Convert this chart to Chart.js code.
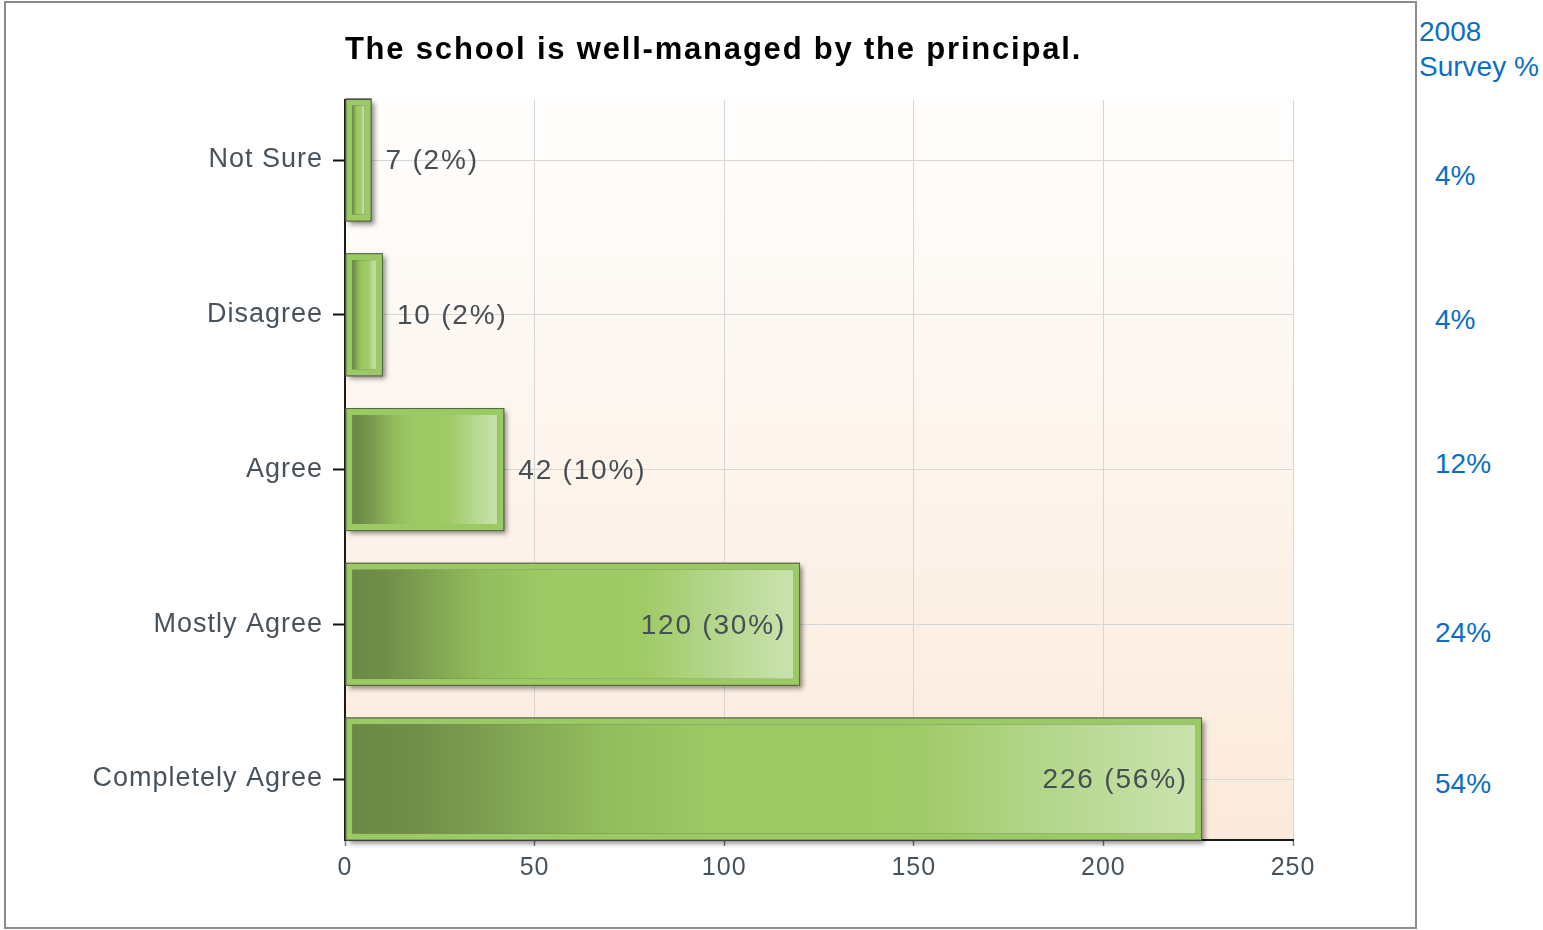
<!DOCTYPE html>
<html><head><meta charset="utf-8">
<script src="https://cdn.jsdelivr.net/npm/chart.js@4.4.0/dist/chart.umd.min.js"></script>
<style>
html,body{margin:0;padding:0;background:#fff;width:1543px;height:930px;overflow:hidden;font-family:"Liberation Sans",Arial,sans-serif;}
#box{position:absolute;left:4px;top:1px;width:1409px;height:924px;border:2px solid #8c8c8c;}
#c{position:absolute;left:0;top:0;}
.side{position:absolute;color:#0a6fc4;font-size:28px;line-height:32px;white-space:nowrap;}
</style></head>
<body>
<div id="box"><canvas id="c" width="1409" height="924"></canvas></div>
<div id="sideWrap"></div>
<script>
const title = 'The school is well-managed by the principal.';
const categories = ['Not Sure', 'Disagree', 'Agree', 'Mostly Agree', 'Completely Agree'];
const counts = [7, 10, 42, 120, 226];
const percents = [2, 2, 10, 30, 56];
const xTicks = [0, 50, 100, 150, 200, 250];
const survey2008Header = ['2008', 'Survey %'];
const survey2008 = ['4%', '4%', '12%', '24%', '54%'];

// side column (HTML text)
const sideWrap = document.getElementById('sideWrap');
const headTops = [16, 51];
survey2008Header.forEach((t, i) => {
  const d = document.createElement('div'); d.className = 'side';
  d.style.left = '1419px'; d.style.top = headTops[i] + 'px'; d.textContent = t; sideWrap.appendChild(d);
});
const valTops = [160, 304, 448, 617, 768];
survey2008.forEach((t, i) => {
  const d = document.createElement('div'); d.className = 'side';
  d.style.left = '1435px'; d.style.top = valTops[i] + 'px'; d.textContent = t; sideWrap.appendChild(d);
});

const FONT = '"Liberation Sans", Arial, sans-serif';

const bgPlugin = {
  id: 'bg',
  beforeDraw(chart) {
    const {ctx, chartArea: a} = chart;
    ctx.save();
    const g = ctx.createLinearGradient(0, a.top, 0, a.bottom);
    g.addColorStop(0, '#fffefd');
    g.addColorStop(1, '#fbeadb');
    ctx.fillStyle = g;
    ctx.fillRect(a.left, a.top, a.right - a.left, a.bottom - a.top);
    // title
    ctx.fillStyle = '#000';
    ctx.font = 'bold 31px ' + FONT;
    ctx.letterSpacing = '1.8px';
    ctx.textAlign = 'center';
    ctx.textBaseline = 'middle';
    ctx.fillText(title, chart.width / 2 + 3, 47);
    ctx.restore();
    ctx.letterSpacing = '1px';
  }
};

const barFx = {
  id: 'barFx',
  beforeDatasetsDraw(chart) {
    const ctx = chart.ctx;
    const meta = chart.getDatasetMeta(0);
    ctx.save();
    meta.data.forEach(b => {
      const p = b.getProps(['x', 'y', 'base', 'height'], true);
      ctx.save();
      ctx.shadowColor = 'rgba(0,0,0,0.45)';
      ctx.shadowBlur = 5;
      ctx.shadowOffsetX = 3;
      ctx.shadowOffsetY = 3;
      ctx.fillStyle = '#555';
      ctx.fillRect(p.base, p.y - p.height / 2, p.x - p.base, p.height);
      ctx.restore();
    });
    ctx.restore();
  },
  afterDatasetsDraw(chart) {
    const ctx = chart.ctx;
    const meta = chart.getDatasetMeta(0);
    ctx.save();
    meta.data.forEach((b, i) => {
      const p = b.getProps(['x', 'y', 'base', 'height'], true);
      ctx.strokeStyle = 'rgba(70,80,60,0.8)';
      ctx.lineWidth = 1;
      ctx.strokeRect(p.base + 0.5, p.y - p.height / 2 + 0.5, p.x - p.base - 1, p.height - 1);
      const txt = counts[i] + ' (' + percents[i] + '%)';
      ctx.font = '28px ' + FONT;
      ctx.letterSpacing = '1.8px';
      ctx.fillStyle = '#474f54';
      ctx.textBaseline = 'middle';
      const w = ctx.measureText(txt).width;
      if (p.x - p.base > w + 40) {
        ctx.textAlign = 'right';
        ctx.fillText(txt, p.x - 14, p.y + 1.5);
      } else {
        ctx.textAlign = 'left';
        ctx.fillText(txt, p.x + 14, p.y + 1.5);
      }
    });
    ctx.restore();
  }
};

function barGradient(context) {
  const chart = context.chart;
  const xs = chart.scales && chart.scales.x;
  if (!xs || context.type !== 'data' || !context.parsed) return '#9dc865';
  const x0 = xs.getPixelForValue(0);
  const x1 = xs.getPixelForValue(context.parsed.x);
  if (!isFinite(x0) || !isFinite(x1) || x1 - x0 < 1) return '#9dc865';
  const g = chart.ctx.createLinearGradient(x0 + 7, 0, x1 - 7, 0);
  g.addColorStop(0, '#6a8945');
  g.addColorStop(0.08, '#718f49');
  g.addColorStop(0.3, '#93bd5d');
  g.addColorStop(0.42, '#9dc864');
  g.addColorStop(0.66, '#9fca66');
  g.addColorStop(0.85, '#b7d891');
  g.addColorStop(1, '#cae2ae');
  return g;
}

new Chart(document.getElementById('c'), {
  type: 'bar',
  data: {
    datasets: [{
      data: counts.map((v, i) => ({x: v, y: i})),
      backgroundColor: barGradient,
      borderColor: '#9bc963',
      borderWidth: 7,
      borderSkipped: false,
      categoryPercentage: 1,
      barPercentage: 0.795
    }]
  },
  options: {
    indexAxis: 'y',
    responsive: false,
    animation: false,
    devicePixelRatio: 1,
    layout: {padding: {left: 0, right: 122, top: 97, bottom: 0}},
    plugins: {legend: {display: false}, title: {display: false}, tooltip: {enabled: false}},
    scales: {
      x: {
        type: 'linear', min: 0, max: 250,
        afterBuildTicks: s => { s.ticks = xTicks.map(v => ({value: v})); },
        afterFit: s => { s.height = 87; },
        grid: {color: '#d6d6d6', tickColor: '#777', tickLength: 6, lineWidth: 1, tickWidth: 1.5},
        border: {color: '#1a1a1a', width: 2},
        ticks: {color: '#46525c', font: {family: FONT, size: 25}, padding: 7, maxRotation: 0}
      },
      y: {
        type: 'linear', reverse: true, min: -0.388, max: 4.394,
        offset: false,
        afterBuildTicks: s => { s.ticks = categories.map((c, i) => ({value: i})); },
        afterFit: s => { s.width = 339; },
        grid: {color: '#d6d6d6', tickColor: '#111', tickLength: 12, lineWidth: 1, tickWidth: 2, offset: false},
        border: {color: '#1a1a1a', width: 2},
        ticks: {color: '#46525c', font: {family: FONT, size: 27}, padding: 10,
          callback: v => categories[v]}
      }
    }
  },
  plugins: [bgPlugin, barFx]
});
</script>
</body></html>
